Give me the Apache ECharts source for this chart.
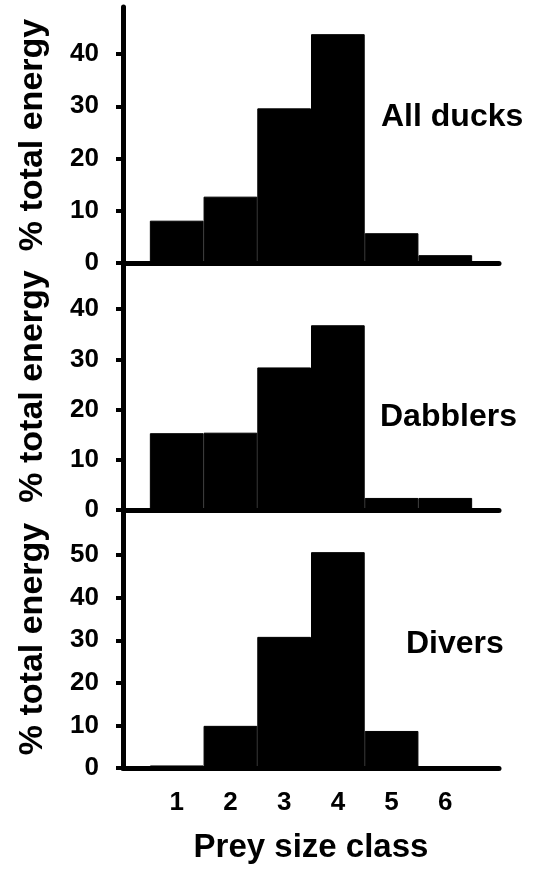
<!DOCTYPE html>
<html><head><meta charset="utf-8">
<script src="https://cdn.jsdelivr.net/npm/echarts@6/dist/echarts.min.js"></script>
<style>html,body{margin:0;padding:0;background:#fff}#c{width:545px;height:873px}</style>
</head><body><div id="c"></div>
<script>
// ---- data ----
const sizeClasses = [1, 2, 3, 4, 5, 6];
const allDucks = [8.1, 12.7, 29.6, 43.8, 5.7, 1.5];
const dabblers = [15.3, 15.4, 28.4, 36.8, 2.4, 2.4];
const divers   = [0.6, 9.9, 30.8, 50.7, 8.7, 0.3];
const panelNames = ['All ducks', 'Dabblers', 'Divers'];
const yTicksUpper = [0, 10, 20, 30, 40];
const yTicksLower = [0, 10, 20, 30, 40, 50];
const yTitle = '% total energy';
const xTitle = 'Prey size class';

// ---- layout / style ----
const FONT = '"Liberation Sans", Arial, sans-serif';
const gridLeft = 123, gridWidth = 376;
const grids = [
  {top: 7, height: 256, yMax: 49},
  {top: 263, height: 247, yMax: 49.2},
  {top: 510, height: 258, yMax: 60.6}
];
const nameAnchors = [[381, 117.5], [380, 417], [406, 644]];
const seriesVals = [allDucks, dabblers, divers];
const yTicks = [yTicksUpper, yTicksUpper, yTicksLower];

const chart = echarts.init(document.getElementById('c'), null, {renderer: 'canvas'});
const option = {
  animation: false,
  backgroundColor: '#fff',
  grid: grids.map(g => ({left: gridLeft, width: gridWidth, top: g.top, height: g.height, outerBoundsMode: 'none', containLabel: false})),
  xAxis: grids.map((g, i) => ({
    type: 'value', gridIndex: i, min: 0, max: 7,
    axisLine: {show: true, onZero: false, lineStyle: {color: '#000', width: 5}},
    axisTick: {show: false},
    splitLine: {show: false},
    axisLabel: i === 2 ? {
      show: true, customValues: sizeClasses, margin: 22,
      color: '#000', fontFamily: FONT, fontWeight: 'bold', fontSize: 26
    } : {show: false},
    name: i === 2 ? xTitle : '',
    nameLocation: 'middle', nameGap: 63,
    nameTextStyle: {color: '#000', fontFamily: FONT, fontWeight: 'bold', fontSize: 33}
  })),
  yAxis: grids.map((g, i) => ({
    type: 'value', gridIndex: i, min: 0, max: g.yMax,
    axisLine: {show: true, lineStyle: {color: '#000', width: 5}},
    axisTick: {show: true, customValues: yTicks[i], length: 7, lineStyle: {color: '#000', width: 4}},
    splitLine: {show: false},
    axisLabel: {
      show: true, customValues: yTicks[i], margin: 24,
      color: '#000', fontFamily: FONT, fontWeight: 'bold', fontSize: 26
    },
    name: yTitle, nameLocation: 'middle', nameGap: 73,
    nameTextStyle: {color: '#000', fontFamily: FONT, fontWeight: 'bold', fontSize: 34}
  })),
  series: seriesVals.map((vals, i) => ({
    type: 'bar', xAxisIndex: i, yAxisIndex: i,
    data: sizeClasses.map((c, j) => [c, vals[j]]),
    barCategoryGap: '0%', barGap: '0%',
    itemStyle: {color: '#000', borderColor: '#000', borderWidth: 1},
    silent: true
  })),
  graphic: panelNames.map((n, i) => ({
    type: 'text', x: nameAnchors[i][0], y: nameAnchors[i][1],
    style: {text: n, font: 'bold 32px ' + FONT, fill: '#000', align: 'left', verticalAlign: 'middle'}
  }))
};
chart.setOption(option);
</script>
</body></html>
